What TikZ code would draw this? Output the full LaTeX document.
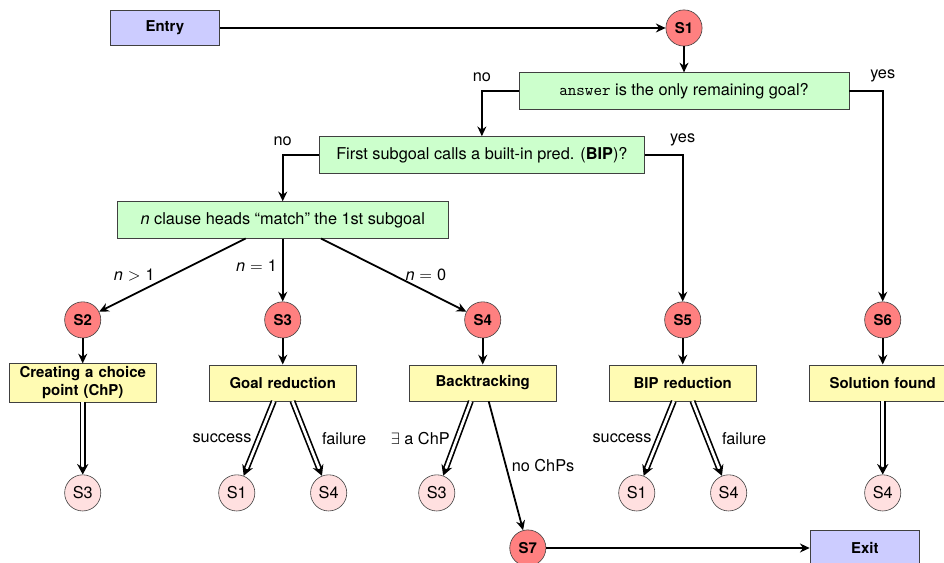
\documentclass[tikz,border=0pt]{standalone}
\usepackage{fontspec}
\setmainfont{TeX Gyre Heros}
\usetikzlibrary{arrows.meta}

\begin{document}
\begin{tikzpicture}[
    font=\fontsize{10.9}{13}\selectfont,
    node distance=1cm,
    endbox/.style={rectangle, draw=black!75, fill=blue!20, minimum width=2.58cm, minimum height=0.82cm, font=\bfseries},
    test/.style={rectangle, draw=black!75, fill=green!20, minimum height=0.86cm},
    action/.style={rectangle, draw=black!75, fill=yellow!30, text width=3.3cm, align=center, minimum width=3.45cm, minimum height=0.85cm, inner sep=2pt, font=\bfseries},
    state/.style={circle, draw=black!75, fill=red!50, minimum size=0.85cm, inner sep=0pt, font=\bfseries},
    goto/.style={circle, draw=black!75, fill=red!12, minimum size=0.85cm, inner sep=0pt},
    arrow/.style={-{Stealth[length=6.5pt, width=6pt]}, line width=1.2pt},
    dblarrow/.style={-{Stealth[length=7pt, width=7.5pt]}, double, double distance=1.8pt, line width=1.1pt},
]
    \useasboundingbox (0,0) rectangle (22.184,-13.23);

    % Start and first tests
    \node[state] (s1) at (16.074,-0.658) {S1};
    \node[endbox, left of=s1, xshift=-11.2cm] (entry) {Entry};
    \node[test, minimum width=7.76cm, below of=s1, yshift=-0.48cm] (answer) {\texttt{answer} is the only remaining goal?};
    \node[test, minimum width=7.64cm, below of=answer, xshift=-4.75cm, yshift=-0.5cm] (bip) {First subgoal calls a built-in pred. (\textbf{BIP})?};
    \node[test, minimum width=7.78cm, below of=bip, xshift=-4.68cm, yshift=-0.53cm] (clause) {\textit{n} clause heads ``match'' the 1st subgoal};

    % States
    \node[state, below of=clause, yshift=-1.35cm] (s3) {S3};
    \node[state, left of=s3, xshift=-3.7cm] (s2) {S2};
    \node[state, right of=s3, xshift=3.7cm] (s4) {S4};
    \node[state, right of=s4, xshift=3.7cm] (s5) {S5};
    \node[state, right of=s5, xshift=3.7cm] (s6) {S6};

    % Actions
    \node[action, below of=s2, yshift=-0.48cm] (chp) {Creating a choice point (ChP)};
    \node[action, below of=s3, yshift=-0.48cm] (goal) {Goal reduction};
    \node[action, below of=s4, yshift=-0.48cm] (back) {Backtracking};
    \node[action, below of=s5, yshift=-0.48cm] (bipred) {BIP reduction};
    \node[action, below of=s6, yshift=-0.48cm] (found) {Solution found};

    % Where to go next
    \node[goto, below of=chp, yshift=-1.585cm] (chps3) {S3};
    \node[goto, below of=goal, xshift=-1.08cm, yshift=-1.585cm] (goals1) {S1};
    \node[goto, below of=goal, xshift=1.08cm, yshift=-1.585cm] (goals4) {S4};
    \node[goto, below of=back, xshift=-1.08cm, yshift=-1.585cm] (backs3) {S3};
    \node[goto, below of=bipred, xshift=-1.08cm, yshift=-1.585cm] (bips1) {S1};
    \node[goto, below of=bipred, xshift=1.08cm, yshift=-1.585cm] (bips4) {S4};
    \node[goto, below of=found, yshift=-1.585cm] (founds4) {S4};

    % End
    \node[state, below of=back, xshift=1.06cm, yshift=-2.88cm] (s7) {S7};
    \node[endbox, right of=s7, xshift=6.92cm] (exit) {Exit};

    % Tests
    \draw[arrow] (entry) -- (s1);
    \draw[arrow] (s1) -- (answer);
    \draw[arrow] (answer.west) -| (bip.north) node[pos=0.5, above=2pt] {no};
    \draw[arrow] (answer.east) -| (s6.north) node[pos=0.5, above=2pt] {yes};
    \draw[arrow] (bip.west) -| (clause.north) node[pos=0.5, above=2pt] {no};
    \draw[arrow] (bip.east) -| (s5.north) node[pos=0.5, above=2pt] {yes};
    \draw[arrow] ([xshift=-0.87cm]clause.south) -- (s2) node[midway, left=8pt] {\textit{n}\hspace{0.3em}$>$\hspace{0.3em}1};
    \draw[arrow] (clause) -- (s3) node[midway, left, yshift=3pt] {\textit{n}\hspace{0.3em}$=$\hspace{0.3em}1};
    \draw[arrow] ([xshift=0.9cm]clause.south) -- (s4) node[midway, right=4pt] {\textit{n}\hspace{0.3em}$=$\hspace{0.3em}0};

    % States to actions
    \draw[arrow] (s2) -- (chp);
    \draw[arrow] (s3) -- (goal);
    \draw[arrow] (s4) -- (back);
    \draw[arrow] (s5) -- (bipred);
    \draw[arrow] (s6) -- (found);

    % Actions to next states
    \draw[dblarrow] (chp) -- (chps3);
    \draw[dblarrow] ([xshift=-0.21cm]goal.south) -- (goals1) node[midway, left=1pt] {success};
    \draw[dblarrow] ([xshift=0.23cm]goal.south) -- (goals4) node[midway, right=6pt] {failure};
    \draw[dblarrow] ([xshift=-0.28cm]back.south) -- (backs3) node[midway, left=1pt] {$\exists$ a ChP};
    \draw[arrow] ([xshift=0.14cm]back.south) -- (s7) node[midway, right] {no ChPs};
    \draw[dblarrow] ([xshift=-0.21cm]bipred.south) -- (bips1) node[midway, left=1pt] {success};
    \draw[dblarrow] ([xshift=0.23cm]bipred.south) -- (bips4) node[midway, right=6pt] {failure};
    \draw[dblarrow] (found) -- (founds4);
    \draw[arrow] (s7) -- (exit);

\end{tikzpicture}
\end{document}
